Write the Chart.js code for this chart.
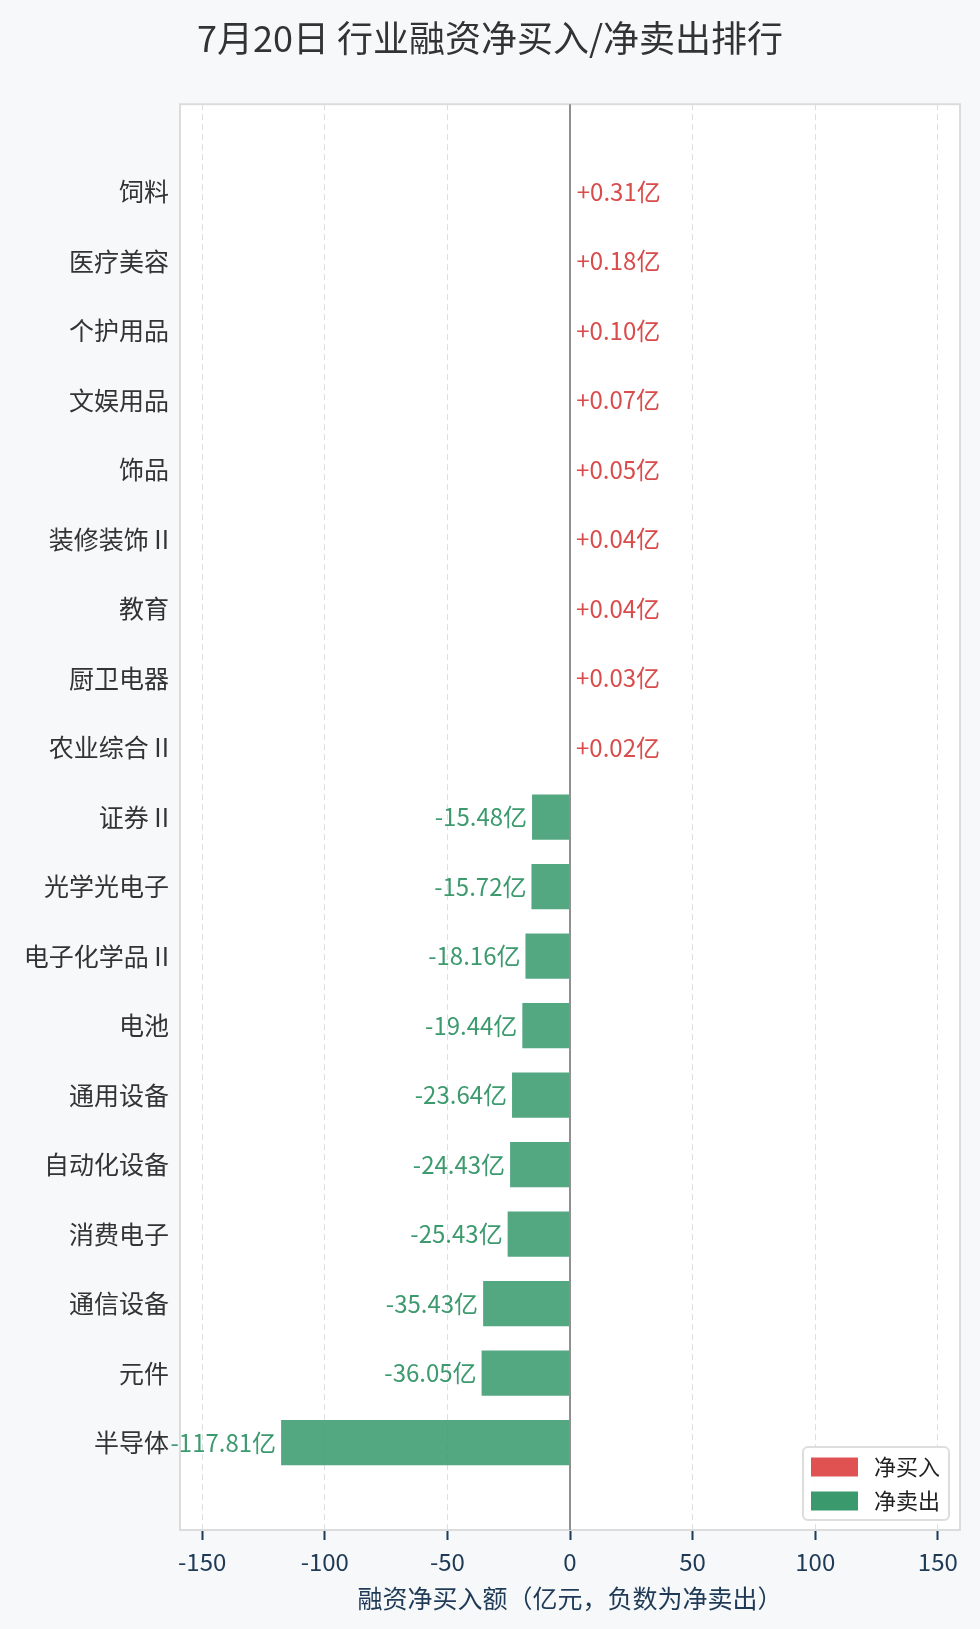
<!DOCTYPE html>
<html>
<head>
<meta charset="utf-8">
<script src="https://cdn.jsdelivr.net/npm/chart.js@4.4.1/dist/chart.umd.min.js"></script>
<style>
  html, body { margin: 0; padding: 0; background: #f6f8fa; }
  canvas { display: block; }
</style>
</head>
<body>
<canvas id="c" width="980" height="1629" style="width:980px;height:1629px"></canvas>
<script>
const titleText = '7月20日 行业融资净买入/净卖出排行';
const axisTitle = '融资净买入额（亿元，负数为净卖出）';
const categories = ['饲料','医疗美容','个护用品','文娱用品','饰品','装修装饰 II','教育','厨卫电器','农业综合 II','证券 II','光学光电子','电子化学品 II','电池','通用设备','自动化设备','消费电子','通信设备','元件','半导体'];
const values = [0.31, 0.18, 0.10, 0.07, 0.05, 0.04, 0.04, 0.03, 0.02, -15.48, -15.72, -18.16, -19.44, -23.64, -24.43, -25.43, -35.43, -36.05, -117.81];
const xTickValues = [-150, -100, -50, 0, 50, 100, 150];
const seriesNames = ['净买入', '净卖出'];

const FONT = "'Noto Sans CJK SC', 'Noto Sans', sans-serif";
const RED = 'rgb(224,82,82)';
const GREEN = 'rgb(58,154,110)';
const RED_BAR = 'rgba(224,82,82,0.87)';
const GREEN_BAR = 'rgba(58,154,110,0.87)';
const RED_TEXT = '#d94c4c';
const GREEN_TEXT = '#3d9a6e';
const NAVY = '#1f3a56';

const maxAbs = Math.max(...values.map(v => Math.abs(v)));
const xLimit = maxAbs * 1.35;
const n = categories.length;
const yPad = 0.325 + 0.05 * (n - 1 + 0.65);

const buyData = values.map((v, i) => ({ y: i, x: v > 0 ? v : null }));
const sellData = values.map((v, i) => ({ y: i, x: v < 0 ? v : null }));

const bgPlugin = {
  id: 'bgPlugin',
  beforeDraw(chart) {
    const { ctx, chartArea: a, width, height } = chart;
    ctx.save();
    ctx.fillStyle = '#f6f8fa';
    ctx.fillRect(0, 0, width, height);
    ctx.fillStyle = '#ffffff';
    ctx.fillRect(a.left, a.top, a.right - a.left, a.bottom - a.top);
    ctx.restore();
  },
  beforeDatasetsDraw(chart) {
    const { ctx, chartArea: a } = chart;
    ctx.save();
    ctx.strokeStyle = '#dcdcdc';
    ctx.lineWidth = 2;
    ctx.strokeRect(a.left, a.top, a.right - a.left, a.bottom - a.top);
    ctx.restore();
  },
  afterDatasetsDraw(chart) {
    const { ctx, chartArea: a } = chart;
    const xs = chart.scales.x;
    const x0 = xs.getPixelForValue(0);
    ctx.save();
    ctx.strokeStyle = '#909090';
    ctx.lineWidth = 2;
    ctx.beginPath();
    ctx.moveTo(x0, a.top);
    ctx.lineTo(x0, a.bottom);
    ctx.stroke();

    ctx.font = '24px ' + FONT;
    ctx.textBaseline = 'middle';
    chart.data.datasets.forEach((ds, di) => {
      const meta = chart.getDatasetMeta(di);
      meta.data.forEach((el, i) => {
        const v = ds.data[i].x;
        if (v === null || v === undefined) return;
        if (v > 0) {
          ctx.fillStyle = RED_TEXT;
          ctx.textAlign = 'left';
          ctx.fillText('+' + v.toFixed(2) + '亿', el.x + 6, el.y);
        } else {
          ctx.fillStyle = GREEN_TEXT;
          ctx.textAlign = 'right';
          ctx.fillText(v.toFixed(2) + '亿', el.x - 5, el.y);
        }
      });
    });
    ctx.restore();
  },
  afterDraw(chart) {
    const { ctx, chartArea: a } = chart;
    const colors = [RED, GREEN];
    const boxW = 146, boxH = 73;
    const bx = a.right - 11 - boxW, by = a.bottom - 10 - boxH;
    ctx.save();
    ctx.fillStyle = 'rgba(255,255,255,0.9)';
    ctx.strokeStyle = '#dddddd';
    ctx.lineWidth = 2;
    ctx.beginPath();
    ctx.roundRect(bx, by, boxW, boxH, 5);
    ctx.fill();
    ctx.stroke();
    ctx.font = '22px ' + FONT;
    ctx.textBaseline = 'middle';
    ctx.textAlign = 'left';
    chart.data.datasets.forEach((ds, i) => {
      const cy = by + 20 + i * 34;
      ctx.fillStyle = colors[i];
      ctx.fillRect(bx + 8, cy - 9.5, 47, 19);
      ctx.fillStyle = '#222222';
      ctx.fillText(ds.label, bx + 71, cy);
    });
    ctx.restore();
  }
};

new Chart(document.getElementById('c'), {
  type: 'bar',
  data: {
    datasets: [
      { label: seriesNames[0], data: buyData, backgroundColor: RED_BAR, grouped: false, barPercentage: 0.65, categoryPercentage: 1.0 },
      { label: seriesNames[1], data: sellData, backgroundColor: GREEN_BAR, grouped: false, barPercentage: 0.65, categoryPercentage: 1.0 }
    ]
  },
  options: {
    indexAxis: 'y',
    responsive: false,
    devicePixelRatio: 1,
    animation: false,
    layout: { padding: { left: 0, right: 0, top: 0, bottom: 0 } },
    plugins: {
      legend: { display: false },
      tooltip: { enabled: false },
      title: {
        display: true,
        text: titleText,
        color: '#333333',
        font: { family: FONT, size: 36, weight: 'normal' },
        padding: { top: 17, bottom: 44 }
      }
    },
    scales: {
      x: {
        type: 'linear',
        min: -xLimit,
        max: xLimit,
        afterBuildTicks(scale) { scale.ticks = xTickValues.map(v => ({ value: v })); },
        afterFit(scale) { scale.height = 99; },
        grid: {
          color: (c) => (c.tick && c.tick.value === 0) ? 'rgba(0,0,0,0)' : '#dedede',
          lineWidth: 1,
          drawTicks: true,
          tickLength: 10,
          tickWidth: 2,
          tickColor: NAVY
        },
        border: { display: false, dash: [6, 4] },
        ticks: {
          color: NAVY,
          font: { family: FONT, size: 24 },
          padding: 7,
          callback: (v) => String(v)
        },
        title: {
          display: true,
          text: axisTitle,
          color: NAVY,
          font: { family: FONT, size: 25 },
          padding: { top: 4, bottom: 16 }
        }
      },
      y: {
        type: 'linear',
        reverse: true,
        offset: false,
        min: -yPad,
        max: n - 1 + yPad,
        afterBuildTicks(scale) { scale.ticks = categories.map((_, i) => ({ value: i })); },
        afterFit(scale) { scale.width = 180; },
        grid: { display: false, drawTicks: false, offset: false },
        border: { display: false },
        ticks: {
          color: '#333333',
          font: { family: FONT, size: 25 },
          padding: 11,
          autoSkip: false,
          callback: (v) => categories[v]
        }
      },
      yRight: {
        type: 'linear',
        position: 'right',
        display: true,
        min: 0,
        max: 1,
        afterBuildTicks(scale) { scale.ticks = []; },
        afterFit(scale) { scale.width = 20; },
        grid: { display: false, drawTicks: false },
        border: { display: false },
        ticks: { display: false }
      }
    }
  },
  plugins: [bgPlugin]
});
</script>
</body>
</html>
